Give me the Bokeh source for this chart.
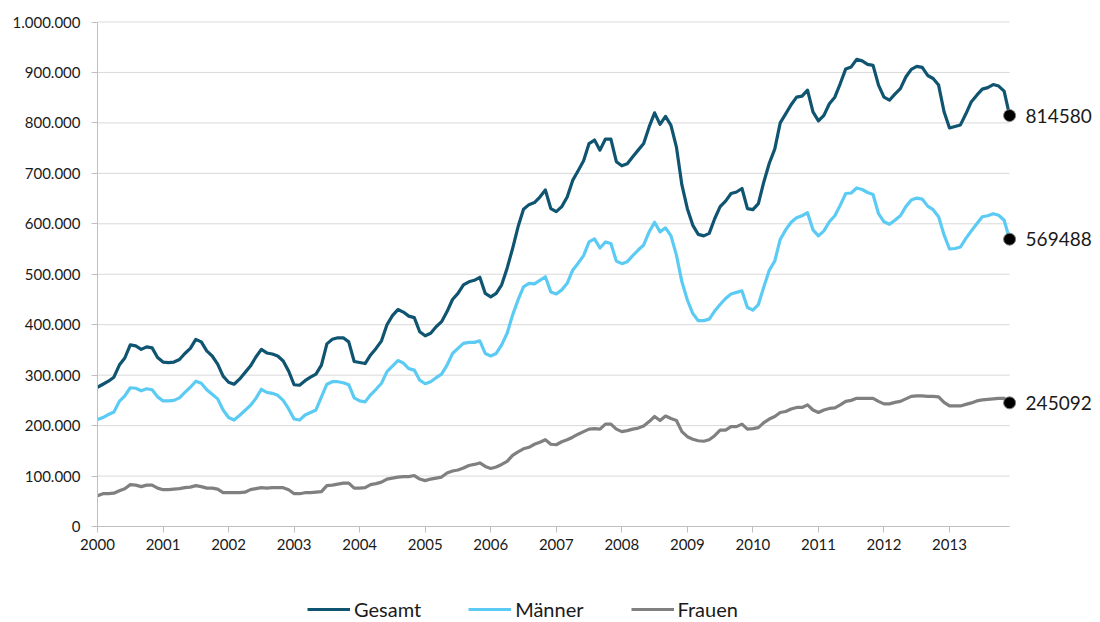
from bokeh.plotting import figure
from bokeh.models import Range1d, FixedTicker, Legend, LegendItem
from bokeh.core.properties import value
from bokeh.embed import file_html
from bokeh.resources import INLINE

# ---------------- data (monthly, Jan 2000 - Dec 2013) ----------------
start_year = 2000
years = list(range(2000, 2014))
year_labels = [str(y) for y in years]

gesamt = [
    276000, 282000, 288000, 296000, 320000, 334000, 360000, 358000, 351000, 356000, 354000, 335000,
    326000, 325000, 326000, 331000, 343000, 353000, 371000, 366000, 348000, 338000, 322000, 298000,
    286000, 282000, 292000, 305000, 318000, 336000, 351000, 344000, 342000, 338000, 328000, 308000,
    281000, 280000, 289000, 296000, 302000, 320000, 362000, 371000, 374000, 374000, 366000, 327000,
    325000, 323000, 340000, 353000, 368000, 400000, 418000, 430000, 425000, 417000, 414000, 386000,
    378000, 383000, 396000, 406000, 426000, 450000, 462000, 479000, 485000, 488000, 494000, 462000,
    455000, 462000, 479000, 512000, 551000, 594000, 629000, 638000, 642000, 653000, 667000, 630000,
    624000, 634000, 653000, 686000, 705000, 725000, 759000, 766000, 746000, 768000, 768000, 723000,
    715000, 719000, 733000, 746000, 759000, 792000, 820000, 797000, 813000, 795000, 752000, 677000,
    630000, 597000, 579000, 576000, 581000, 610000, 634000, 645000, 660000, 663000, 670000, 630000,
    628000, 640000, 683000, 720000, 748000, 800000, 818000, 836000, 851000, 853000, 865000, 822000,
    804000, 815000, 838000, 851000, 878000, 907000, 911000, 926000, 923000, 916000, 914000, 875000,
    851000, 845000, 857000, 868000, 891000, 906000, 912000, 910000, 894000, 888000, 875000, 822000,
    790000, 793000, 796000, 818000, 842000, 855000, 867000, 870000, 876000, 873000, 863000, 814580,
]

maenner = [
    212000, 216000, 222000, 227000, 248000, 259000, 275000, 274000, 269000, 273000, 271000, 257000,
    249000, 249000, 250000, 255000, 266000, 276000, 288000, 284000, 271000, 262000, 253000, 231000,
    216000, 211000, 220000, 230000, 240000, 254000, 272000, 266000, 264000, 260000, 250000, 233000,
    213000, 211000, 221000, 226000, 231000, 257000, 282000, 287000, 287000, 285000, 281000, 255000,
    249000, 247000, 261000, 272000, 284000, 307000, 318000, 329000, 324000, 313000, 310000, 290000,
    283000, 287000, 295000, 302000, 320000, 343000, 353000, 363000, 365000, 365000, 368000, 343000,
    338000, 343000, 360000, 383000, 419000, 449000, 475000, 482000, 481000, 488000, 495000, 465000,
    461000, 469000, 482000, 508000, 522000, 537000, 564000, 570000, 552000, 564000, 561000, 526000,
    521000, 525000, 537000, 548000, 558000, 584000, 603000, 584000, 592000, 576000, 538000, 485000,
    449000, 422000, 408000, 408000, 411000, 427000, 440000, 452000, 461000, 464000, 467000, 434000,
    429000, 440000, 475000, 508000, 526000, 569000, 588000, 603000, 612000, 616000, 622000, 588000,
    576000, 586000, 604000, 616000, 637000, 660000, 661000, 671000, 668000, 662000, 658000, 620000,
    604000, 599000, 607000, 616000, 634000, 647000, 651000, 649000, 635000, 628000, 614000, 578000,
    550000, 551000, 554000, 571000, 586000, 600000, 614000, 616000, 620000, 617000, 607000, 569488,
]

frauen = [
    61000, 65000, 65000, 66000, 71000, 75000, 83000, 82000, 79000, 82000, 82000, 76000,
    73000, 73000, 74000, 75000, 77000, 78000, 81000, 79000, 76000, 76000, 74000, 67000,
    67000, 67000, 67000, 68000, 73000, 75000, 77000, 76000, 77000, 77000, 77000, 73000,
    65000, 65000, 67000, 67000, 68000, 69000, 81000, 82000, 84000, 86000, 86000, 76000,
    76000, 77000, 83000, 85000, 88000, 94000, 96000, 98000, 99000, 99000, 101000, 94000,
    91000, 94000, 96000, 98000, 106000, 110000, 112000, 116000, 121000, 123000, 126000, 119000,
    115000, 118000, 123000, 129000, 141000, 148000, 154000, 157000, 163000, 167000, 172000, 163000,
    162000, 168000, 172000, 177000, 183000, 188000, 193000, 194000, 193000, 203000, 203000, 193000,
    188000, 190000, 193000, 195000, 199000, 208000, 218000, 210000, 219000, 214000, 210000, 188000,
    178000, 173000, 170000, 169000, 172000, 180000, 191000, 191000, 198000, 198000, 203000, 193000,
    194000, 196000, 206000, 213000, 218000, 226000, 228000, 233000, 236000, 236000, 241000, 231000,
    226000, 231000, 234000, 235000, 241000, 248000, 250000, 254000, 254000, 254000, 254000, 248000,
    243000, 243000, 246000, 248000, 253000, 258000, 259000, 259000, 258000, 258000, 257000, 246000,
    239000, 239000, 239000, 242000, 245000, 249000, 251000, 252000, 253000, 254000, 254000, 245092,
]

series_names = ["Gesamt", "Männer", "Frauen"]
y_ticks = [0, 100000, 200000, 300000, 400000, 500000, 600000, 700000, 800000, 900000, 1000000]
y_tick_labels = ["0", "100.000", "200.000", "300.000", "400.000", "500.000",
                 "600.000", "700.000", "800.000", "900.000", "1.000.000"]

# ---------------- styling / layout ----------------
colors = ["#0f5470", "#5ccbf4", "#808080"]
FONT = "Lato"
TEXT_COLOR = "#1a1a1a"
AXIS_COLOR = "#bfbfbf"
GRID_COLOR = "#d9d9d9"

W, H = 1100, 622
LEFT = 97                        # px of the y axis
TOP_PX, ZERO_PX = 21.5, 526.0    # px of 1.000.000 and of 0
YEAR_PX = 65.54                  # px per year
ppu = (ZERO_PX - TOP_PX) / 1000000.0
y_top = 1000000 + TOP_PX / ppu
y_bottom = -(H - ZERO_PX) / ppu
x_start = 2000 - LEFT / YEAR_PX
x_end = 2000 + (W - LEFT) / YEAR_PX

months_x = [start_year + i / 12 for i in range(len(gesamt))]

p = figure(width=W, height=H, output_backend="svg", toolbar_location=None,
           x_range=Range1d(x_start, x_end), y_range=Range1d(y_bottom, y_top),
           min_border_left=0, min_border_right=0, min_border_top=0, min_border_bottom=0)
p.outline_line_color = None
p.background_fill_color = "white"
p.border_fill_color = "white"
p.xgrid.visible = False
p.ygrid.visible = False

# horizontal gridlines spanning the data period
p.segment(x0=[months_x[0]] * (len(y_ticks) - 1), x1=[months_x[-1]] * (len(y_ticks) - 1),
          y0=y_ticks[1:], y1=y_ticks[1:], line_color=GRID_COLOR, line_width=1, level="underlay")

# x axis at y = 0, y axis at x = 2000 (both inside the frame)
xa = p.xaxis[0]
xa.fixed_location = 0
xa.bounds = (months_x[0], months_x[-1])
xa.ticker = FixedTicker(ticks=years)
xa.major_label_overrides = {y: l for y, l in zip(years, year_labels)}
xa.minor_tick_line_color = None
xa.major_tick_in = 0
xa.major_tick_out = 6
xa.major_tick_line_color = AXIS_COLOR
xa.axis_line_color = AXIS_COLOR
xa.major_label_text_font = FONT
xa.major_label_text_font_size = "15px"
xa.major_label_text_color = TEXT_COLOR
xa.major_label_standoff = 6

ya = p.yaxis[0]
ya.fixed_location = months_x[0]
ya.bounds = (0, 1000000)
ya.ticker = FixedTicker(ticks=y_ticks)
ya.major_label_overrides = {t: l for t, l in zip(y_ticks, y_tick_labels)}
ya.minor_tick_line_color = None
ya.major_tick_in = 0
ya.major_tick_out = 6
ya.major_tick_line_color = AXIS_COLOR
ya.axis_line_color = AXIS_COLOR
ya.major_label_text_font = FONT
ya.major_label_text_font_size = "15px"
ya.major_label_text_color = TEXT_COLOR
ya.major_label_standoff = 11

# lines
items = []
for name, vals, col in zip(series_names, [gesamt, maenner, frauen], colors):
    r = p.line(months_x, vals, line_color=col, line_width=3.2, line_join="round")
    items.append(LegendItem(label=name, renderers=[r]))

# end points + value labels
end_x = [months_x[-1]] * 3
end_y = [gesamt[-1], maenner[-1], frauen[-1]]
end_txt = [str(v) for v in end_y]
p.scatter(end_x, end_y, size=12, fill_color="black", line_color="#7f7f7f", line_width=1)
p.text(end_x, end_y, text=end_txt, x_offset=16, text_baseline="middle", text_align="left",
       text_font=value(FONT), text_font_size="19px", text_color=TEXT_COLOR)

legend = Legend(items=items, orientation="horizontal", location=(307, 1),
                glyph_width=43, glyph_height=20, label_standoff=4, spacing=47,
                padding=0, margin=0, border_line_color=None, background_fill_alpha=0,
                label_text_font=FONT, label_text_font_size="20px", label_text_color=TEXT_COLOR,
                label_height=20)
p.add_layout(legend, "center")

open("out.html", "w").write(file_html(p, INLINE))
